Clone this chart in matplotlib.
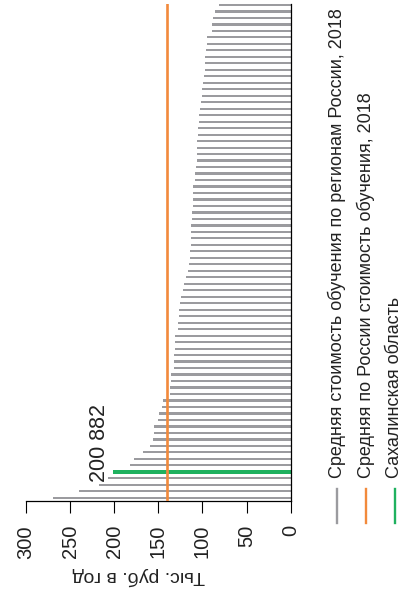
#!/usr/bin/env python
# encoding: utf-8

### average tuition cost by russian region, 2018 (chart drawn rotated: value axis at bottom, 300 -> 0)

import matplotlib
matplotlib.use("Agg")
import matplotlib.pyplot as plt
from matplotlib.lines import Line2D

## data (thousand rub. per year), regions listed top -> bottom
region_costs = [81.3, 85.8, 87.8, 89.2, 89.2, 94.9, 95.2, 96.0, 97.2, 97.2,
	97.5, 98.3, 99.4, 100.2, 100.6, 101.7, 103.2, 104.0, 104.3, 104.8,
	105.1, 105.9, 105.9, 106.2, 106.6, 107.4, 108.2, 108.5, 110.4, 110.8,
	111.1, 111.1, 111.9, 111.9, 112.7, 112.7, 113.0, 113.4, 114.2, 114.2,
	115.3, 116.4, 119.0, 120.6, 121.8, 124.4, 125.5, 126.3, 127.0, 127.4,
	128.1, 131.2, 131.5, 131.5, 132.3, 132.7, 132.7, 135.7, 135.7, 136.5,
	136.5, 144.4, 146.3, 149.0, 150.1, 154.6, 155.0, 155.8, 159.5, 167.1,
	177.3, 182.2, 200.882, 206.8, 217.0, 239.7, 269.2]
sakhalin_cost = 200.882
sakhalin_label = "200 882"
russia_avg = 140.0
ticks = [300, 250, 200, 150, 100, 50, 0]
tick_labels = ["300", "250", "200", "150", "100", "50", "0"]
axis_label = "Тыс. руб. в год"
legend_labels = ["Средняя стоимость обучения по регионам России, 2018",
	"Средняя по России стоимость обучения, 2018",
	"Сахалинская область"]

## styles
gray = "#9b9b9f"
orange = "#f28a3c"
green = "#1fb15f"
fam = ["Liberation Sans Narrow", "Liberation Sans", "DejaVu Sans"]
plt.rcParams["font.family"] = fam

W, H = 403, 595
fig = plt.figure(figsize=(W / 100, H / 100), dpi=100)
ax = fig.add_axes([26 / W, 1 - 501 / H, 264.7 / W, 497 / H])

## bars
pos = list(range(len(region_costs)))
colors = [green if v == sakhalin_cost else gray for v in region_costs]
heights = [0.55 if v == sakhalin_cost else 0.34 for v in region_costs]
ax.barh(pos, region_costs, height=heights, color=colors, linewidth=0, zorder=2)

## average line
ax.plot([russia_avg, russia_avg], [-0.15, len(region_costs) - 0.7], color=orange, lw=1.9, zorder=3)

## sakhalin value
hi = region_costs.index(sakhalin_cost)
ax.text(sakhalin_cost + 16, hi + 1.6, sakhalin_label, rotation=90, ha="center", va="bottom",
	fontsize=15.5, color="#222222")

## axes
ax.set_xlim(300, 0)
ax.set_ylim(len(region_costs) - 0.5, -0.15)
ax.set_yticks([])
ax.set_xticks(ticks)
ax.set_xticklabels(tick_labels, rotation=90, fontsize=14.5, color="#222222")
ax.tick_params(axis="x", direction="out", length=8.8, width=0.8, pad=8.5)
for s in ["left", "top"]:
	ax.spines[s].set_visible(False)
for s in ["right", "bottom"]:
	ax.spines[s].set_linewidth(0.9)
ax.set_xlabel(axis_label, rotation=180, fontsize=14, color="#222222", va="center", ha="center")
ax.xaxis.set_label_coords((139 - 26) / 264.7, (501 - 576) / 497.0)

## legend, drawn by hand (rotated)
leg_x = [336.5, 365.5, 394.5]
leg_c = [gray, orange, green]
for x, c, lab in zip(leg_x, leg_c, legend_labels):
	fig.add_artist(Line2D([x / W, x / W], [1 - 489 / H, 1 - 523 / H], color=c, lw=1.7))
	fig.text(x / W, 1 - 478 / H, lab, rotation=90, ha="center", va="bottom", fontsize=13, color="#222222")

fig.savefig("out.png", dpi=100)
